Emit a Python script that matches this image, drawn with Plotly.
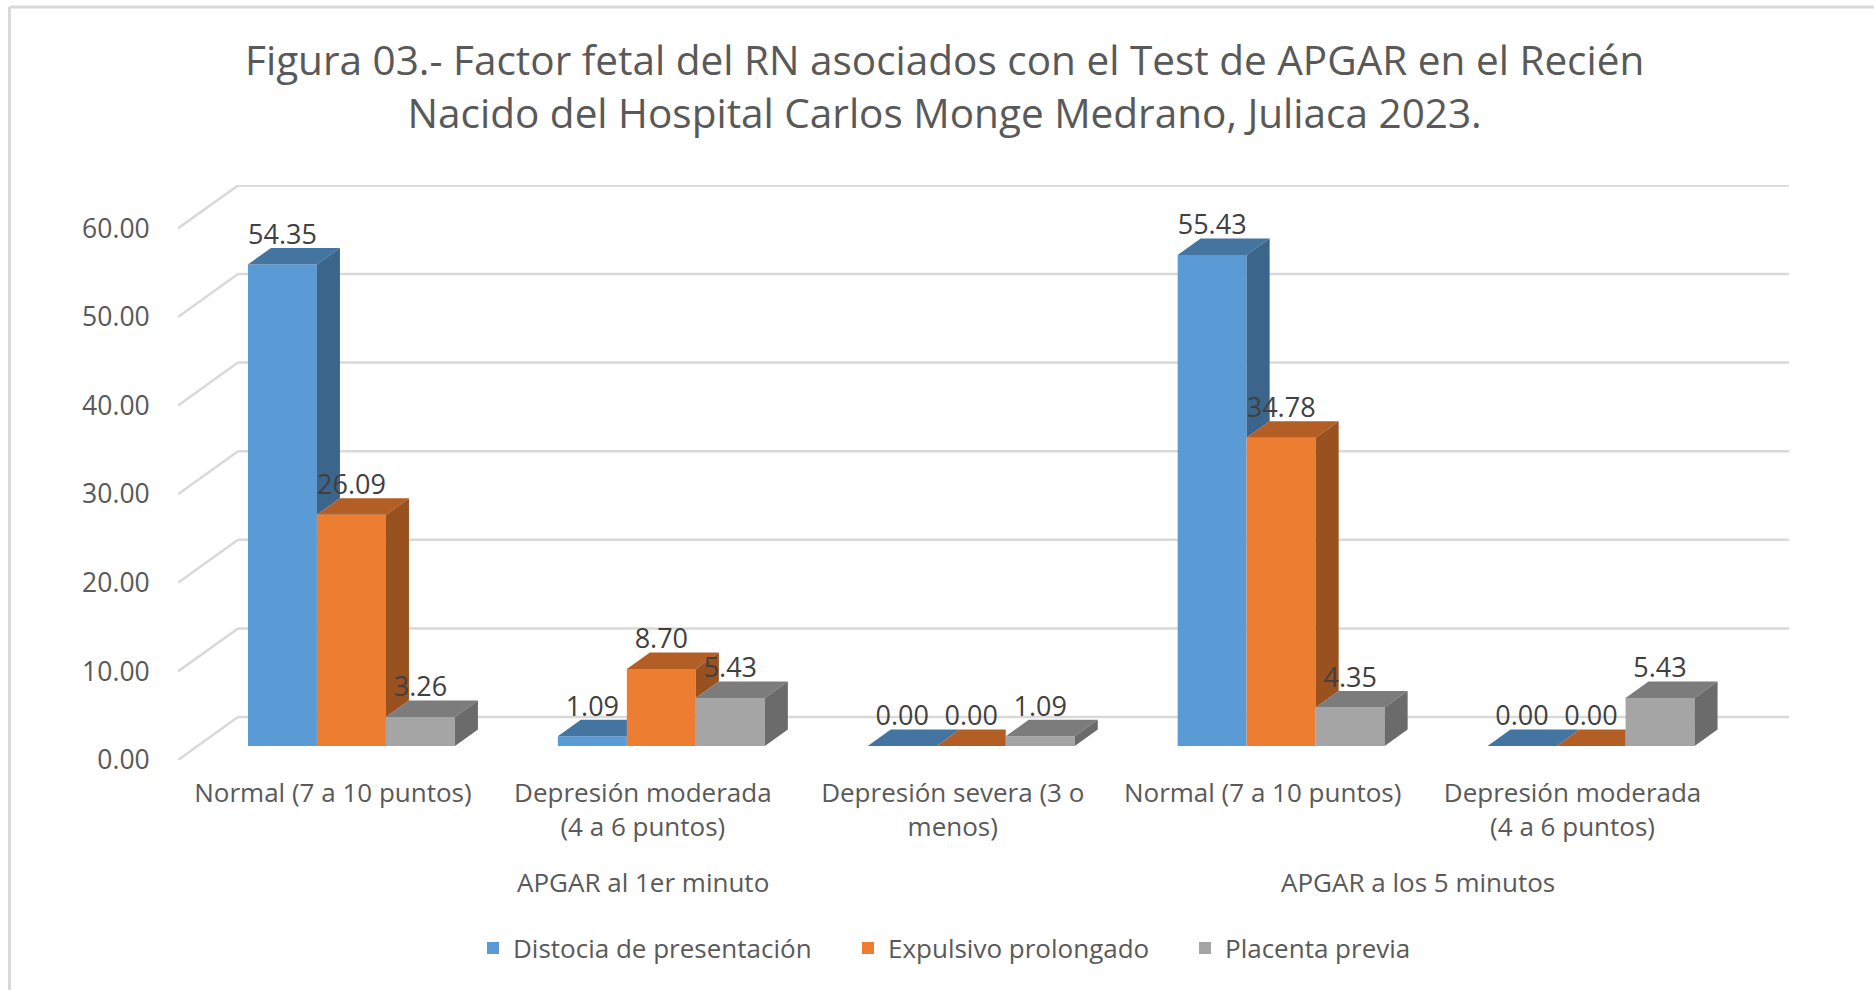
"""Figura 03: pseudo-3D clustered columns, Excel style, in Plotly."""

import plotly.graph_objects as go

TITLE = ("Figura 03.- Factor fetal del RN asociados con el Test de APGAR en el Recién<br>"
         "Nacido del Hospital Carlos Monge Medrano, Juliaca 2023.")
CATEGORIES = ["Normal (7 a 10 puntos)", "Depresión moderada<br>(4 a 6 puntos)",
              "Depresión severa (3 o<br>menos)", "Normal (7 a 10 puntos)",
              "Depresión moderada<br>(4 a 6 puntos)"]
GROUPS = ["APGAR al 1er minuto", "APGAR a los 5 minutos"]
DISTOCIA = [54.35, 1.09, 0.00, 55.43, 0.00]
EXPULSIVO = [26.09, 8.70, 0.00, 34.78, 0.00]
PLACENTA = [3.26, 5.43, 1.09, 4.35, 5.43]
Y_TICKS = [0, 10, 20, 30, 40, 50, 60]

SERIES = [
    ("Distocia de presentación", DISTOCIA, "#5B9BD5", "#4474A0", "#3B658A"),
    ("Expulsivo prolongado", EXPULSIVO, "#ED7D31", "#B25E25", "#9A5120"),
    ("Placenta previa", PLACENTA, "#A5A5A5", "#7C7C7C", "#6B6B6B"),
]

# plot box in pixels, everything below is derived from it
W, H = 1874, 990
LEFT, RIGHT, TOP, BOTTOM = 178, 1789, 185, 760
PX_X = 309.9  # pixels per category
PX_Y = 8.86  # pixels per percentage point
BASE = 746  # pixel row of value 0 on the bar front plane


def ux(px):
    return px / PX_X


def uy(px):
    return px / PX_Y


WALL_DX, FRONT_DROP, BACK_RISE = ux(60), uy(BASE - 760), uy(BASE - 717)
BAR_W, BAR_SHIFT = ux(69), ux(18.5)
DEPTH_X, DEPTH_Y = ux(23), uy(16.5)
LABEL_UP = uy(27.5)
TEXT = "#595959"
FONT = "Open Sans"
LEGEND_LEFT = [473, 848, 1185]  # one legend box per series, spacing is uneven

plot_w, plot_h = RIGHT - LEFT, BOTTOM - TOP

fig = go.Figure()

# front faces
for j, (name, vals, front, top, side) in enumerate(SERIES):
    xs = [i + BAR_SHIFT + (j - 1) * BAR_W for i in range(len(vals))]
    fig.add_trace(go.Bar(
        x=xs, y=vals, width=BAR_W, name=name, marker_color=front,
        marker_line_width=0, legend="legend" if j == 0 else f"legend{j + 1}",
    ))

# top and side faces, clipped against the neighbouring column on the right
for j, (name, vals, front, top, side) in enumerate(SERIES):
    nxt = SERIES[j + 1][1] if j < 2 else [None] * len(vals)
    for i, v in enumerate(vals):
        x0 = i + BAR_SHIFT + (j - 1.5) * BAR_W
        x1 = x0 + BAR_W
        n = nxt[i]
        if n is not None and n > v:
            px = [x0, x1, x1, x0 + DEPTH_X, x0]
        else:
            px = [x0, x1, x1 + DEPTH_X, x0 + DEPTH_X, x0]
        py = [v, v, v + DEPTH_Y, v + DEPTH_Y, v]
        fig.add_trace(go.Scatter(
            x=px, y=py, mode="lines", fill="toself", fillcolor=top,
            line=dict(width=0), showlegend=False, hoverinfo="skip",
        ))
        low = 0 if n is None else n
        if low < v:
            fig.add_trace(go.Scatter(
                x=[x1, x1 + DEPTH_X, x1 + DEPTH_X, x1, x1],
                y=[v, v + DEPTH_Y, low + DEPTH_Y, low, v],
                mode="lines", fill="toself", fillcolor=side,
                line=dict(width=0), showlegend=False, hoverinfo="skip",
            ))

# data labels
for j, (name, vals, front, top, side) in enumerate(SERIES):
    fig.add_trace(go.Scatter(
        x=[i + BAR_SHIFT + (j - 1) * BAR_W for i in range(len(vals))],
        y=[v + LABEL_UP for v in vals],
        mode="text", text=[f"{v:.2f}" for v in vals],
        textposition="middle center",
        textfont=dict(family=FONT, size=27, color="#404040"),
        showlegend=False, hoverinfo="skip", cliponaxis=False,
    ))

x_lo = -0.5
x_hi = x_lo + plot_w / PX_X
shapes = []
for t in Y_TICKS:
    line = dict(color="#D9D9D9", width=2.5)
    shapes.append(dict(type="line", layer="below", x0=x_lo, y0=t + FRONT_DROP,
                       x1=x_lo + WALL_DX, y1=t + BACK_RISE, line=line))
    shapes.append(dict(type="line", layer="below", x0=x_lo + WALL_DX, y0=t + BACK_RISE,
                       x1=x_hi, y1=t + BACK_RISE, line=line))

# picture frame: only the top and left edges are in the crop
frame_x = (9.5 - LEFT) / plot_w
frame_y = (BOTTOM - 7) / plot_h
frame = dict(color="#D9D9D9", width=3)
shapes.append(dict(type="line", xref="paper", yref="paper", x0=frame_x, y0=frame_y,
                   x1=(W - LEFT) / plot_w, y1=frame_y, line=frame))
shapes.append(dict(type="line", xref="paper", yref="paper", x0=frame_x, y0=frame_y,
                   x1=frame_x, y1=(BOTTOM - H) / plot_h, line=frame))

group_x = [1, 3.5]
annotations = [
    dict(x=gx, y=(BOTTOM - 882) / plot_h, yref="paper", text=g, showarrow=False,
         xanchor="center", yanchor="middle",
         font=dict(family=FONT, size=26, color=TEXT))
    for g, gx in zip(GROUPS, group_x)
]
annotations.append(dict(
    x=(944 - LEFT) / plot_w, y=(BOTTOM - 86) / plot_h, xref="paper", yref="paper",
    text=TITLE, showarrow=False, xanchor="center", yanchor="middle", align="center",
    font=dict(family=FONT, size=40.5, color=TEXT),
))


def legend_box(px_left):
    return dict(
        orientation="h", x=(px_left - LEFT) / plot_w, xanchor="left",
        y=(BOTTOM - 948) / plot_h, yanchor="middle",
        font=dict(family=FONT, size=26, color=TEXT),
    )


fig.update_layout(
    width=W, height=H, showlegend=True, barmode="overlay",
    paper_bgcolor="white", plot_bgcolor="white",
    margin=dict(l=LEFT, r=W - RIGHT, t=TOP, b=H - BOTTOM, autoexpand=False),
    xaxis=dict(
        range=[x_lo, x_hi], tickmode="array", tickvals=list(range(len(CATEGORIES))),
        ticktext=CATEGORIES, showgrid=False, zeroline=False, showline=False,
        ticks="outside", ticklen=10, tickcolor="rgba(0,0,0,0)",
        tickangle=0, tickfont=dict(family=FONT, size=26, color=TEXT),
    ),
    yaxis=dict(
        range=[FRONT_DROP, uy(BASE - TOP)], tickmode="array",
        tickvals=[t + FRONT_DROP for t in Y_TICKS],
        ticktext=[f"{t:.2f}" for t in Y_TICKS], showgrid=False, zeroline=False,
        showline=False, ticks="outside", ticklen=22, tickcolor="rgba(0,0,0,0)",
        tickfont=dict(family=FONT, size=26.5, color=TEXT),
    ),
    legend=legend_box(LEGEND_LEFT[0]),
    legend2=legend_box(LEGEND_LEFT[1]),
    legend3=legend_box(LEGEND_LEFT[2]),
    shapes=shapes, annotations=annotations,
)

fig.write_html("out.html", config={"displayModeBar": False},
               post_script="document.body.style.margin='0'")
